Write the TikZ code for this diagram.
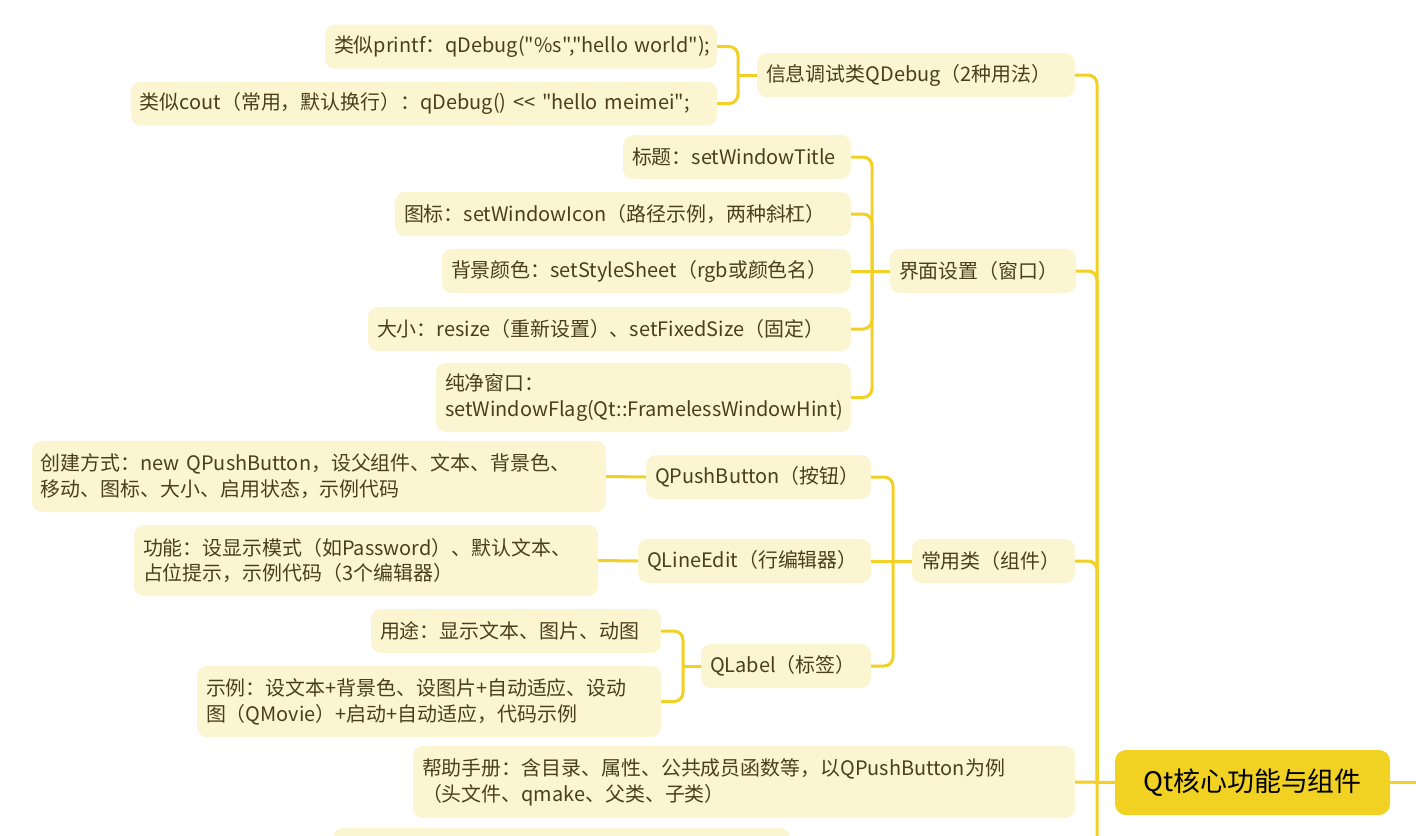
\documentclass[tikz,border=0pt]{standalone}
\usepackage{fontspec}
\setmainfont{Noto Sans CJK SC}[Ligatures=TeXOff]
\definecolor{linec}{HTML}{F2D024}
\definecolor{leafc}{HTML}{FCF5D2}
\definecolor{rootc}{HTML}{F1D122}
\definecolor{txtc}{HTML}{4A3F1A}
\tikzset{
  leaf/.style={fill=leafc, rounded corners=10bp, text=txtc, font=\fontsize{20}{26}\selectfont,
    inner xsep=9bp, inner ysep=2bp, align=left, minimum height=44bp},
  rootbox/.style={fill=rootc, rounded corners=11bp, text=black, font=\fontsize{27}{30}\selectfont,
    minimum width=275bp, minimum height=65bp, inner sep=0pt, align=center},
  conn/.style={draw=linec, line width=3bp, rounded corners=9bp},
}
\begin{document}
\begin{tikzpicture}[x=1bp,y=-1bp]
\useasboundingbox (0,0) rectangle (1416,835);
\clip (0,0) rectangle (1416,835);
% nodes
\node[leaf, text width=374bp] (printf) at (521,46.5) {类似printf：qDebug("\%s","hello~world");};
\node[leaf, text width=568bp] (cout) at (424,103.5) {类似cout（常用，默认换行）：qDebug() << "hello meimei";};
\node[leaf, text width=300bp] (qdebug) at (916,75) {信息调试类QDebug（2种用法）};
\node[leaf, text width=210bp] (title) at (737,157) {标题：setWindowTitle};
\node[leaf, text width=438bp] (icon) at (623,214) {图标：setWindowIcon（路径示例，两种斜杠）};
\node[leaf, text width=391bp] (bg) at (646.5,271) {背景颜色：setStyleSheet（rgb或颜色名）};
\node[leaf, text width=465bp] (size) at (609.5,329) {大小：resize（重新设置）、setFixedSize（固定）};
\node[leaf, text width=397bp, minimum height=69bp] (pure) at (643.5,397.5) {纯净窗口：\\setWindowFlag(Qt::FramelessWindowHint)};
\node[leaf, text width=168bp] (win) at (983,271) {界面设置（窗口）};
\node[leaf, text width=556bp, minimum height=71bp] (create) at (319,476.5) {创建方式：new QPushButton，设父组件、文本、背景色、\\移动、图标、大小、启用状态，示例代码};
\node[leaf, text width=446bp, minimum height=71bp] (func) at (366,560.5) {功能：设显示模式（如Password）、默认文本、\\占位提示，示例代码（3个编辑器）};
\node[leaf, text width=272bp] (use) at (516,631) {用途：显示文本、图片、动图};
\node[leaf, text width=446bp, minimum height=71bp] (ex) at (429,701.5) {示例：设文本+背景色、设图片+自动适应、设动\\图（QMovie）+启动+自动适应，代码示例};
\node[leaf, text width=207bp] (qpb) at (758.5,477) {QPushButton（按钮）};
\node[leaf, text width=215bp] (qle) at (754.5,561) {QLineEdit（行编辑器）};
\node[leaf, text width=152bp] (qlabel) at (786,666) {QLabel（标签）};
\node[leaf, text width=145bp] (common) at (993.5,561) {常用类（组件）};
\node[leaf, text width=644bp, minimum height=72bp] (help) at (744,782) {帮助手册：含目录、属性、公共成员函数等，以QPushButton为例\\（头文件、qmake、父类、子类）};
\node[leaf, minimum width=457bp, minimum height=84bp, text width=439bp] (bottom) at (561.5,870) {};
\node[rootbox] (root) at (1252.5,782.5) {Qt核心功能与组件};
% junctions
\coordinate (jq) at (738,75);
\coordinate (jw) at (872,271);
\coordinate (jc) at (893,561);
\coordinate (jl) at (683,666);
\coordinate (rj) at (1097,782.5);
\coordinate (rout) at (1420,782.5);
% connectors
\draw[conn] (printf.east) -| (jq);
\draw[conn] (cout.east) -| (jq);
\draw[conn] (jq) -- (qdebug.west);
\draw[conn] (title.east) -| (jw);
\draw[conn] (icon.east) -| (jw);
\draw[conn] (bg.east) -- (jw);
\draw[conn] (size.east) -| (jw);
\draw[conn] (pure.east) -| (jw);
\draw[conn] (jw) -- (win.west);
\draw[conn] (create.east) -- (qpb.west);
\draw[conn] (func.east) -- (qle.west);
\draw[conn] (use.east) -| (jl);
\draw[conn] (ex.east) -| (jl);
\draw[conn] (jl) -- (qlabel.west);
\draw[conn] (qpb.east) -| (jc);
\draw[conn] (qle.east) -- (jc);
\draw[conn] (qlabel.east) -| (jc);
\draw[conn] (jc) -- (common.west);
\draw[conn] (qdebug.east) -| (rj);
\draw[conn] (win.east) -| (rj);
\draw[conn] (common.east) -| (rj);
\draw[conn] (bottom.east) -| (rj);
\draw[conn] (help.east) -- (root.west);
\draw[conn] (root.east) -- (rout);
\end{tikzpicture}
\end{document}
